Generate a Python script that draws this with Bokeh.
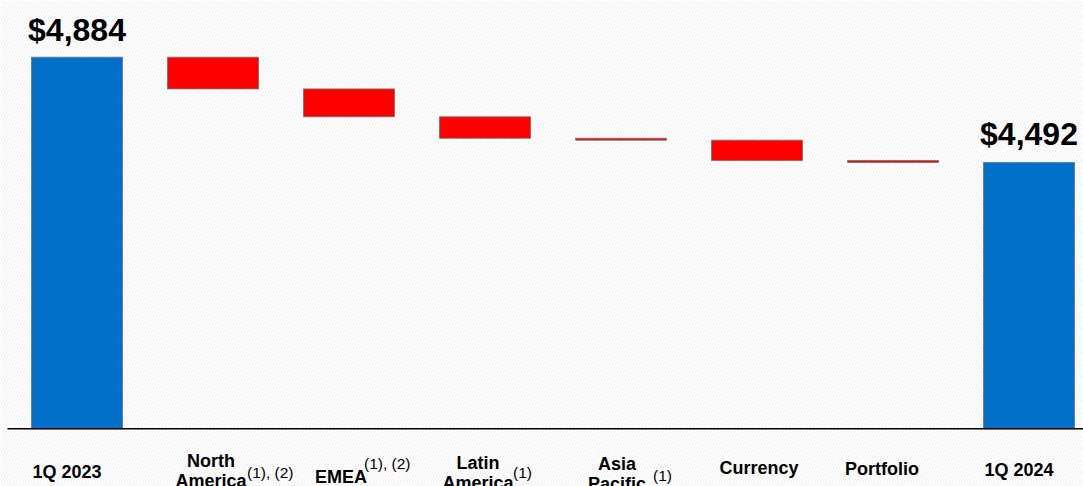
from bokeh.plotting import figure
from bokeh.models import Range1d, BoxAnnotation, ColumnDataSource
from bokeh.core.properties import value
from bokeh.embed import file_html
from bokeh.resources import INLINE

# ---- data ----
categories = ["1Q 2023", "North America", "EMEA", "Latin America",
              "Asia Pacific", "Currency", "Portfolio", "1Q 2024"]
start_value = 4884
changes = [-118, -104, -80, -7, -76, -7]   # North America .. Portfolio
end_value = 4492
value_labels = ["$4,884", "$4,492"]
label_line1 = ["1Q 2023", "North", "EMEA", "Latin", "Asia", "Currency", "Portfolio", "1Q 2024"]
label_line2 = ["", "America", "", "America", "Pacific", "", "", ""]
footnotes = ["", "(1), (2)", "(1), (2)", "(1)", "(1)", "", "", ""]

# ---- layout / styling ----
W, H = 1083, 486
BASE = 3500                 # value at axis line
BASE_PX = 428.3             # pixel row of axis line (from top)
UNITS_PER_PX = 3.7244
FIRST_CX = 76.5             # pixel centre of first bar
STEP = 136.0                # pixel spacing between categories
label_dx = [-10, -2, -8, -7, -4, 2, -11, -10]    # px shifts of category labels
label_dy = [4, 0, 9, 2, 3, 0, 1, 2]              # px vertical shifts of category labels
foot_dx = [0, 34, 15, 28, 32, 0, 0, 0]           # px start of footnote from bar centre
foot_dy = [0, 0, -9, -2, 0, 0, 0, 0]             # px vertical shifts of footnotes
FONT = "Liberation Sans"

def py(px):   # pixel row -> data y
    return BASE + (BASE_PX - px) * UNITS_PER_PX

def px_x(px):  # pixel column -> data x
    return (px - FIRST_CX) / STEP

xs = list(range(len(categories)))
tops, bottoms, colors = [], [], []
level = start_value
tops.append(start_value); bottoms.append(BASE); colors.append("#0070C8")
for c in changes:
    new = level + c
    tops.append(max(level, new)); bottoms.append(min(level, new))
    colors.append("#FF0000" if c < 0 else "#00A000")
    level = new
tops.append(end_value); bottoms.append(BASE); colors.append("#0070C8")

p = figure(width=W, height=H, output_backend="svg", toolbar_location=None,
           x_range=Range1d(px_x(0), px_x(W)), y_range=Range1d(py(H), py(0)),
           min_border=0, min_border_left=0, min_border_right=0,
           min_border_top=0, min_border_bottom=0)
p.axis.visible = False
p.grid.visible = False
p.outline_line_color = None
p.background_fill_color = "white"
p.border_fill_color = "white"

p.add_layout(BoxAnnotation(fill_color="white", fill_alpha=1.0, line_color=None,
                           hatch_pattern="/", hatch_color="#f0f0f0",
                           hatch_scale=6, hatch_weight=1, level="underlay"))

src = ColumnDataSource(dict(x=xs, top=tops, bottom=bottoms, color=colors))
p.vbar(x="x", top="top", bottom="bottom", width=91 / STEP, fill_color="color",
       line_color="#707070", line_width=0.8, source=src)

# axis line
p.segment(x0=[px_x(7)], y0=[BASE], x1=[px_x(W)], y1=[BASE],
          line_color="black", line_width=1.6)

# total value labels (pixel gaps above the bar tops)
p.text(x=[xs[0], xs[-1]], y=[tops[0] + 27 * UNITS_PER_PX, tops[-1] + 28 * UNITS_PER_PX],
       text=value_labels, text_align="center", text_baseline="alphabetic",
       text_font=value(FONT), text_font_style="bold", text_font_size="32px",
       text_color="black")

# category labels
l1x, l1y, l1t, l2x, l2y, l2t, fx, fy, ft = [], [], [], [], [], [], [], [], []
for i in xs:
    cx = FIRST_CX + STEP * i
    two = label_line2[i] != ""
    b1 = (460 if two else 467) + label_dy[i]
    l1x.append(px_x(cx + label_dx[i])); l1y.append(py(b1)); l1t.append(label_line1[i])
    if two:
        l2x.append(px_x(cx + label_dx[i])); l2y.append(py(b1 + 20)); l2t.append(label_line2[i])
    if footnotes[i]:
        fx.append(px_x(cx + foot_dx[i]))
        fy.append(py((b1 + 12 if two else b1 - 4) + foot_dy[i]))
        ft.append(footnotes[i])

for X, Y, T in ((l1x, l1y, l1t), (l2x, l2y, l2t)):
    p.text(x=X, y=Y, text=T, text_align="center", text_baseline="alphabetic",
           text_font=value(FONT), text_font_style="bold", text_font_size="18px",
           text_color="black")
p.text(x=fx, y=fy, text=ft, text_align="left", text_baseline="alphabetic",
       text_font=value(FONT), text_font_size="15.5px", text_color="black")

open("out.html", "w").write(file_html(p, INLINE))
